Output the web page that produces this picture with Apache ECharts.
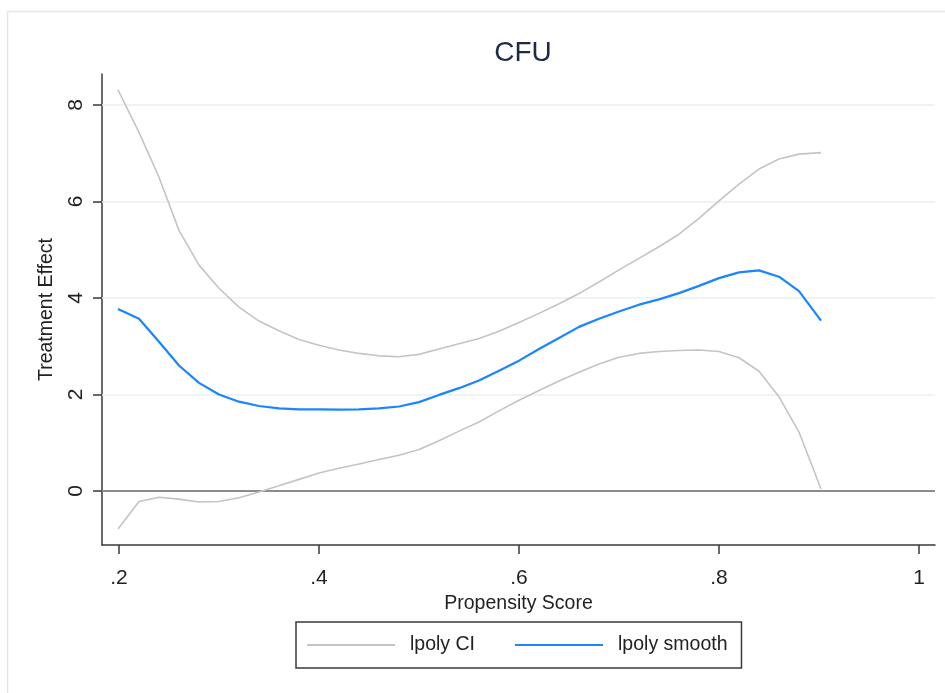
<!DOCTYPE html>
<html>
<head>
<meta charset="utf-8">
<script src="https://cdn.jsdelivr.net/npm/echarts@6/dist/echarts.min.js"></script>
<style>
  html, body { margin: 0; padding: 0; background: #ffffff; }
  #chart { width: 945px; height: 693px; }
</style>
</head>
<body>
<div id="chart"></div>
<script>
// Local polynomial smooth of the treatment effect over the propensity score
const propensity = [0.199, 0.22, 0.24, 0.26, 0.28, 0.30, 0.32, 0.34, 0.36, 0.38,
                    0.40, 0.42, 0.44, 0.46, 0.48, 0.50, 0.52, 0.54, 0.56, 0.58,
                    0.60, 0.62, 0.64, 0.66, 0.68, 0.70, 0.72, 0.74, 0.76, 0.78,
                    0.80, 0.82, 0.84, 0.86, 0.88, 0.902];
const smoothEffect = [3.77, 3.57, 3.09, 2.60, 2.24, 2.00, 1.85, 1.76, 1.71, 1.69,
                      1.69, 1.685, 1.69, 1.71, 1.75, 1.84, 1.99, 2.13, 2.29, 2.49,
                      2.70, 2.94, 3.17, 3.40, 3.57, 3.72, 3.86, 3.97, 4.10, 4.25,
                      4.41, 4.53, 4.57, 4.44, 4.14, 3.53];
const upperCI = [8.31, 7.43, 6.50, 5.40, 4.68, 4.20, 3.81, 3.52, 3.32, 3.14,
                 3.02, 2.92, 2.85, 2.80, 2.78, 2.83, 2.94, 3.05, 3.16, 3.31,
                 3.49, 3.68, 3.88, 4.09, 4.33, 4.58, 4.82, 5.06, 5.32, 5.65,
                 6.01, 6.36, 6.67, 6.88, 6.98, 7.01];
const lowerCI = [-0.79, -0.22, -0.13, -0.17, -0.23, -0.22, -0.14, -0.02, 0.11, 0.24,
                 0.37, 0.47, 0.56, 0.65, 0.74, 0.86, 1.04, 1.24, 1.43, 1.66,
                 1.88, 2.08, 2.28, 2.46, 2.63, 2.77, 2.85, 2.89, 2.91, 2.92,
                 2.89, 2.76, 2.48, 1.95, 1.22, 0.04];
const xTicks = [0.2, 0.4, 0.6, 0.8, 1];
const yTicks = [0, 2, 4, 6, 8];
const gridLevels = [2, 4, 6, 8];

const pairs = ys => propensity.map((x, i) => [x, ys[i]]);
const textColor = '#222222';
const font = 'Liberation Sans, Arial, sans-serif';

const chart = echarts.init(document.getElementById('chart'), null, { renderer: 'canvas' });

chart.setOption({
  animation: false,
  backgroundColor: '#ffffff',
  title: {
    text: 'CFU',
    left: 518,
    top: 34,
    textAlign: 'center',
    textStyle: { fontFamily: font, fontSize: 28, fontWeight: 'normal', color: '#1c2a48' }
  },
  graphic: [{
    type: 'rect',
    left: 5, top: 9,
    shape: { width: 950, height: 700 },
    style: { fill: 'none', stroke: '#e3e9e9', lineWidth: 1.5 },
    silent: true, z: -1
  }],
  grid: { left: 102, right: 10, top: 74, bottom: 148, containLabel: false },
  legend: {
    left: 296,
    top: 622,
    padding: [13, 14, 13, 11],
    borderColor: '#3a3a3a',
    borderWidth: 1.5,
    icon: 'rect',
    itemWidth: 88,
    itemHeight: 2,
    itemGap: 40,
    data: ['lpoly CI', 'lpoly smooth'],
    textStyle: { fontFamily: font, fontSize: 19.5, color: textColor, padding: [0, 0, 0, 10], lineHeight: 20 }
  },
  xAxis: {
    type: 'value',
    min: 0.183,
    max: 1.016,
    name: 'Propensity Score',
    nameLocation: 'middle',
    nameGap: 44,
    nameTextStyle: { fontFamily: font, fontSize: 19.5, color: textColor },
    axisLine: { show: true, onZero: false, lineStyle: { color: '#3a3a3a', width: 1.5 } },
    axisTick: { show: true, length: 9, customValues: xTicks, lineStyle: { color: '#3a3a3a', width: 1.5 } },
    axisLabel: {
      customValues: xTicks,
      margin: 23,
      fontFamily: font, fontSize: 21, color: textColor,
      formatter: v => String(v).replace(/^0\./, '.')
    },
    splitLine: { show: false }
  },
  yAxis: {
    type: 'value',
    min: -1.12,
    max: 8.64,
    name: 'Treatment Effect',
    nameLocation: 'middle',
    nameGap: 45,
    nameRotate: 90,
    nameTextStyle: { fontFamily: font, fontSize: 19.5, color: textColor },
    axisLine: { show: true, onZero: false, lineStyle: { color: '#3a3a3a', width: 1.5 } },
    axisTick: { show: true, length: 9, customValues: yTicks, lineStyle: { color: '#3a3a3a', width: 1.5 } },
    axisLabel: {
      customValues: yTicks,
      rotate: 90,
      margin: 15,
      fontFamily: font, fontSize: 21, color: textColor
    },
    splitLine: { show: false }
  },
  series: [
    {
      name: 'lpoly CI',
      type: 'line',
      data: pairs(upperCI),
      symbol: 'none',
      color: '#c4c4c4',
      lineStyle: { color: '#c4c4c4', width: 1.6 },
      z: 3,
      markLine: {
        silent: true,
        symbol: 'none',
        label: { show: false },
        data: gridLevels.map(v => ({ yAxis: v, lineStyle: { color: '#e6f0f3', width: 1.5, type: 'solid' } }))
          .concat([{ yAxis: 0, lineStyle: { color: '#8c8c8c', width: 2, type: 'solid' } }]),
        z: 1
      }
    },
    {
      name: 'lpoly CI',
      type: 'line',
      data: pairs(lowerCI),
      symbol: 'none',
      color: '#c4c4c4',
      lineStyle: { color: '#c4c4c4', width: 1.6 },
      z: 3
    },
    {
      name: 'lpoly smooth',
      type: 'line',
      data: pairs(smoothEffect),
      symbol: 'none',
      color: '#1a85ff',
      lineStyle: { color: '#1a85ff', width: 2.2 },
      z: 4
    }
  ]
});
</script>
</body>
</html>
